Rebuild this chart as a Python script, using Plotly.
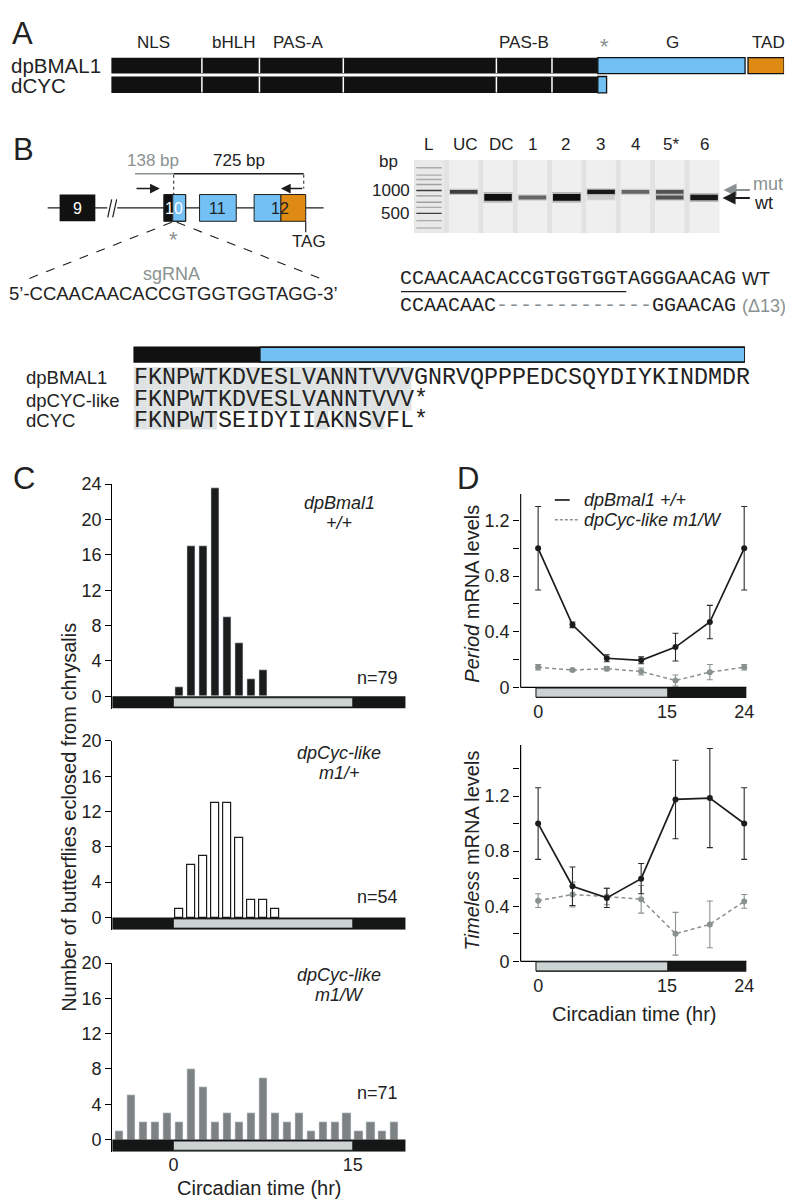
import numpy as np
import plotly.graph_objects as go

W, H = 793, 1203
OFFX, OFFY = 0, 6  # small vertical offset correction of target positions
FONT = "Liberation Sans, Arial, Helvetica, sans-serif"
MONO = "Liberation Mono, Courier New, monospace"
INK = "#1b1d1d"
GREY = "#8a9191"
LIGHT = "#cdd3d2"
BLUE = "#72c0f4"
ORANGE = "#df8a12"
TEXT = "#222222"

# ================= DATA =================
# Panel A: domain structure (residue coordinates, approximate)
A_ROWS = ["dpBMAL1", "dCYC"]
A_DOMAIN_BOUNDS = [0, 93, 152, 238, 395, 452, 499]
A_G_REGION = [499, 650]
A_TAD_REGION = [653, 690]
A_DCYC_TAIL = [499, 508]
A_LABELS = ["NLS", "bHLH", "PAS-A", "PAS-B", "*", "G", "TAD"]
A_LABEL_AA = [43, 125, 192, 423, 506, 576, 674]

# Panel B: gel
GEL_LANES = ["L", "UC", "DC", "1", "2", "3", "4", "5*", "6"]
LADDER_BP = [2000, 1600, 1400, 1200, 1000, 850, 700, 600, 500, 400, 320]
LADDER_STRENGTH = [0.3, 0.3, 0.3, 0.35, 0.85, 0.4, 0.35, 0.3, 0.85, 0.3, 0.25]
MUT_BP, WT_BP = 960, 810
LANE_MUT = [0, 0.75, 0, 0, 0, 0.95, 0.55, 0.65, 0]
LANE_WT = [0, 0, 1.0, 0.55, 1.0, 0.12, 0, 0.65, 0.95]
LANE_WEIGHT = [1, 1, 1.7, 1, 1.7, 1.1, 1, 1, 1.4]

# Panel B: sequences
SGRNA = "CCAACAACACCGTGGTGGTAGG"
WT_SEQ = "CCAACAACACCGTGGTGGTAGGGAACAG"
DEL_START, DEL_LEN = 8, 13
SEQ_NAMES = ["dpBMAL1", "dpCYC-like", "dCYC"]
SEQS = ["FKNPWTKDVESLVANNTVVVGNRVQPPPEDCSQYDIYKINDMDR",
        "FKNPWTKDVESLVANNTVVV*",
        "FKNPWTSEIDYIIAKNSVFL*"]
ALIGN_BLACK_END = 9.1

# Panel C: eclosion histograms (bin start hour, counts)
C_WT_HOURS = [0, 1, 2, 3, 4, 5, 6, 7]
C_WT = [1, 17, 17, 23.5, 9, 6, 2, 3]
C_HET_HOURS = [0, 1, 2, 3, 4, 5, 6, 7, 8]
C_HET = [1, 6, 7, 13, 13, 9, 2, 2, 1]
C_MUT_HOURS = list(range(-5, 19))
C_MUT = [1, 5, 2, 2, 3, 2, 8, 6, 2, 3, 2, 3, 7, 3, 2, 3, 1, 2, 2, 3, 1, 2, 1, 2]
C_GENO = [("dpBmal1", "+/+"), ("dpCyc-like", "m1/+"), ("dpCyc-like", "m1/W")]
C_N = [79, 54, 71]

# Panel D: qPCR
CT = [0, 4, 8, 12, 16, 20, 24]
PER_WT = [1.0, 0.45, 0.21, 0.195, 0.29, 0.47, 1.0]
PER_WT_ERR = [0.3, 0.02, 0.025, 0.025, 0.1, 0.12, 0.3]
PER_MUT = [0.145, 0.125, 0.135, 0.115, 0.05, 0.11, 0.145]
PER_MUT_ERR = [0.02, 0.006, 0.015, 0.025, 0.04, 0.055, 0.02]
TIM_WT = [1.0, 0.545, 0.46, 0.6, 1.175, 1.185, 1.0]
TIM_WT_ERR = [0.26, 0.14, 0.07, 0.11, 0.285, 0.36, 0.26]
TIM_MUT = [0.44, 0.485, 0.47, 0.45, 0.2, 0.268, 0.435]
TIM_MUT_ERR = [0.05, 0.09, 0.06, 0.1, 0.155, 0.17, 0.05]


# ================= helpers =================
def xd(a, b):
    return [(a - OFFX) / W, (b - OFFX) / W]


def yd(top, bot):
    return [1 - (bot - OFFY) / H, 1 - (top - OFFY) / H]


ann = []
shapes = []


def txt(x, y, s, size=18, color=TEXT, anchor="center", ref="9", family=FONT, yanchor="middle"):
    ann.append(dict(x=x, y=y, text=s, xref="x" + ref, yref="y" + ref, showarrow=False,
                    xanchor=anchor, yanchor=yanchor, borderpad=0, borderwidth=0,
                    font=dict(size=size, color=color, family=family)))


def rect(ref, x0, x1, y0, y1, fill, line=None, lw=1.2, layer="above"):
    shapes.append(dict(type="rect", xref="x" + ref, yref="y" + ref, x0=x0, x1=x1, y0=y0, y1=y1,
                       fillcolor=fill, line=dict(color=line or fill, width=lw if line else 0),
                       layer=layer))


def seg(ref, x0, y0, x1, y1, color=INK, w=1.2, dash="solid"):
    shapes.append(dict(type="line", xref="x" + ref, yref="y" + ref, x0=x0, x1=x1, y0=y0, y1=y1,
                       line=dict(color=color, width=w, dash=dash)))


def arrow(x0, y0, x1, y1, color=INK, w=1.5):
    ann.append(dict(x=x1, y=y1, ax=x0, ay=y0, xref="x9", yref="y9", axref="x9", ayref="y9",
                    text="", showarrow=True, arrowhead=2, arrowsize=1.3, arrowwidth=w,
                    arrowcolor=color, standoff=0))


fig = go.Figure()
hidden = dict(visible=False, showgrid=False, zeroline=False, fixedrange=True)
lay = {}

# ---------- canvas (pixel) axis for free text ----------
lay["xaxis9"] = dict(hidden, domain=[0, 1], range=[OFFX, W + OFFX], anchor="y9")
lay["yaxis9"] = dict(hidden, domain=[0, 1], range=[H + OFFY, OFFY], anchor="x9")

# ---------- Panel A ----------
lay["xaxis6"] = dict(hidden, domain=xd(104, 782), range=[0, 690], anchor="y6")
lay["yaxis6"] = dict(hidden, domain=yd(16, 84), range=[84, 16], anchor="x6")
rows_y = [(46, 62), (65, 81.5)]
for r, (y0, y1) in enumerate(rows_y):
    rect("6", A_DOMAIN_BOUNDS[0], A_DOMAIN_BOUNDS[-1], y0, y1, "#111111")
    for b in A_DOMAIN_BOUNDS[1:-1]:
        seg("6", b, y0 + 0.5, b, y1 - 0.5, color="white", w=1.5)
    if r == 0:
        rect("6", A_G_REGION[0], A_G_REGION[1], y0, y1, BLUE, line="#111111", lw=1.3)
        rect("6", A_TAD_REGION[0], A_TAD_REGION[1], y0, y1, ORANGE, line="#111111", lw=1.3)
    else:
        rect("6", A_DCYC_TAIL[0], A_DCYC_TAIL[1], y0, y1, BLUE, line="#111111", lw=1.3)
for lab, aa in zip(A_LABELS, A_LABEL_AA):
    if lab == "*":
        txt(aa, 35, lab, size=22, color=GREY, ref="6")
    else:
        txt(aa, 31, lab, size=17, ref="6")
txt(3, 54, A_ROWS[0], size=20.5, anchor="left")
txt(3, 74, A_ROWS[1], size=20.5, anchor="left")

# panel letters
for L, (x, y) in zip("ABCD", [(15, 22), (16, 139), (16, 470), (463, 470)]):
    txt(x, y, L, size=31)

# ---------- Panel B gene diagram (schematic, canvas px) ----------
txt(146, 150, "138 bp", size=17, color=GREY)
txt(233, 150, "725 bp", size=17)
seg("9", 128, 163, 167, 163, color=GREY, w=1.5)
seg("9", 167, 163, 298, 163, w=1.5)
seg("9", 167, 164, 167, 184, w=1, dash="dot")
seg("9", 298, 164, 298, 178, w=1, dash="dot")
arrow(128, 178, 153, 178)
arrow(298, 178, 275, 178)
seg("9", 40, 197.5, 318, 197.5, w=1.2)
rect("9", 100, 110, 192, 203, "white")
seg("9", 100.5, 207, 104.5, 189, w=1.2)
seg("9", 105.5, 207, 109.5, 189, w=1.2)
rect("9", 52, 88, 184, 211, "#111111")
txt(70, 198, "9", size=16, color="white")
rect("9", 157, 166, 184, 211, "#111111")
rect("9", 166, 179, 184, 211, BLUE, line="#222", lw=1)
rect("9", 157, 179, 184, 211, "rgba(0,0,0,0)", line="#222", lw=1)
txt(167.5, 198, "10", size=16, color="white")
rect("9", 193, 230, 184, 211, BLUE, line="#222", lw=1)
txt(211.5, 198, "11", size=16)
rect("9", 248, 275, 184, 211, BLUE, line="#222", lw=1)
rect("9", 275, 300, 184, 211, ORANGE, line="#222", lw=1)
txt(274, 198, "12", size=16)
seg("9", 300, 211, 300, 222, w=1.2)
txt(303, 231, "TAG", size=17)
txt(167, 229, "*", size=22, color=GREY)
seg("9", 165, 212, 18, 270, w=1.1, dash="dash")
seg("9", 170, 212, 318, 270, w=1.1, dash="dash")
txt(165, 264, "sgRNA", size=18, color=GREY)
txt(167, 284, "5\u2019-" + SGRNA + "-3\u2019", size=18.5)

# ---------- Panel B gel ----------
lay["xaxis7"] = dict(hidden, domain=xd(409, 717), range=[-0.45, 8.45], anchor="y7")
lay["yaxis7"] = dict(hidden, domain=yd(149, 223), range=[np.log10(273), np.log10(2547)], anchor="x7")
rect("7", -0.45, 8.45, np.log10(273), np.log10(2547), "#e2e2e2", layer="below")
for i in range(len(GEL_LANES)):
    rect("7", i - 0.43, i + 0.43, np.log10(273), np.log10(2547),
         "#e9e9e9" if i == 0 else "#efefef", layer="below")
for bp, s in zip(LADDER_BP, LADDER_STRENGTH):
    lb = np.log10(bp)
    rect("7", -0.38, 0.36, lb - 0.009, lb + 0.009, "rgba(30,30,30,%.2f)" % s)
px_log = (np.log10(2547) - np.log10(273)) / 74.0
for i in range(len(GEL_LANES)):
    for bp, inten in ((MUT_BP, LANE_MUT[i]), (WT_BP, LANE_WT[i])):
        if inten <= 0:
            continue
        lb = np.log10(bp)
        h = 2.0 * LANE_WEIGHT[i] * px_log
        rect("7", i - 0.42, i + 0.42, lb - h * 1.6, lb + h * 1.6, "rgba(20,20,20,%.2f)" % (inten * 0.25))
        rect("7", i - 0.4, i + 0.4, lb - h, lb + h, "rgba(15,15,15,%.2f)" % inten)
lane_x = [424, 461, 497, 528, 562, 597, 632, 668, 702]
for name, x in zip(GEL_LANES, lane_x):
    txt(x, 134, name, size=17)
txt(383, 151, "bp", size=17)
txt(405, 180, "1000", size=17, anchor="right")
txt(404, 203, "500", size=17, anchor="right")
arrow(749, 179.5, 721, 179.5, color=GREY, w=2)
arrow(749, 187.5, 720, 187.5, color=INK, w=2)
txt(751, 173, "mut", size=18, color=GREY, anchor="left")
txt(752, 193, "wt", size=18, anchor="left")

CW = 12.0  # monospace char width at 20px
txt(395, 269, WT_SEQ, size=20, family=MONO, anchor="left")
seg("9", 396, 282, 395 + (len(SGRNA) - 3) * CW, 282, w=1.3)
txt(740, 269, "WT", size=18, anchor="left")
mut_line = (WT_SEQ[:DEL_START] + "<span style='color:%s'>" % GREY + "-" * DEL_LEN + "</span>"
            + WT_SEQ[DEL_START + DEL_LEN:])
txt(395, 296, mut_line, size=20, family=MONO, anchor="left")
txt(740, 296, "(\u0394%d)*" % DEL_LEN, size=18, color=GREY, anchor="left")

# ---------- Panel B alignment ----------
nres = len(SEQS[0])
lay["xaxis8"] = dict(hidden, domain=xd(126.5, 126.5 + nres * 14.0), range=[0, nres], anchor="y8")
lay["yaxis8"] = dict(hidden, domain=yd(336, 424), range=[424, 336], anchor="x8")
rect("8", 0, ALIGN_BLACK_END, 338, 353, "#111111")
rect("8", ALIGN_BLACK_END, nres, 338, 353, BLUE, line="#111111", lw=1.3)
rect("8", 0, nres, 338, 353, "rgba(0,0,0,0)", line="#111111", lw=1.3)
row_bands = [(358, 380.5), (380.5, 402), (402, 421)]
row_cent = [369, 391.5, 412]
ref_seq = SEQS[0]
for r, s in enumerate(SEQS):
    for i, ch in enumerate(s):
        if r == 0:
            match = i < len(SEQS[1]) and SEQS[1][i] == ch
        else:
            match = i < len(ref_seq) and ref_seq[i] == ch
        if match:
            rect("8", i, i + 1, row_bands[r][0], row_bands[r][1], "#dfe2e2", layer="below")
    txt(0, row_cent[r], s, size=23.33, family=MONO, anchor="left", ref="8")
    txt(18, row_cent[r], SEQ_NAMES[r], size=18.5, anchor="left")

# ---------- Panel C ----------
c_x = dict(domain=xd(105, 400.7), range=[-5.12, 19.43], showgrid=False, zeroline=False,
           showline=False, ticks="", fixedrange=True)
c_y = dict(showgrid=False, zeroline=False, showline=True, linecolor="black", linewidth=1.2,
           ticks="outside", ticklen=6, tickwidth=1.2, tickcolor="black",
           tickfont=dict(size=18, color=TEXT, family=FONT), fixedrange=True)
c_specs = [("", "", (476, 702.3), 24, C_WT_HOURS, C_WT, dict(color=INK)),
           ("2", "2", (735, 925.3), 20, C_HET_HOURS, C_HET, dict(color="white", line=dict(color=INK, width=1.2))),
           ("3", "3", (959, 1149.3), 20, C_MUT_HOURS, C_MUT, dict(color="#7d8383"))]
for k, (xs, ys, (top, bot), ytop, hrs, vals, mk) in enumerate(c_specs):
    xa = dict(c_x, anchor="y" + ys)
    if k == 2:
        xa.update(tickmode="array", tickvals=[0, 15], ticktext=["0", "15"],
                  tickfont=dict(size=18, color=TEXT, family=FONT))
    else:
        xa.update(showticklabels=False)
    lay["xaxis" + xs] = xa
    lay["yaxis" + ys] = dict(c_y, domain=yd(top, bot), range=[-1.38, ytop], anchor="x" + xs,
                             tickmode="array", tickvals=list(range(0, ytop + 1, 4)))
    fig.add_trace(go.Bar(x=[h + 0.5 for h in hrs], y=vals, width=0.68, marker=mk,
                         xaxis="x" + xs, yaxis="y" + ys, showlegend=False, hoverinfo="skip"))
    xr = "x" + xs if xs else "x"
    yr = "y" + ys if ys else "y"
    shapes.append(dict(type="rect", xref=xr, yref=yr, x0=-5.12, x1=19.43, y0=-1.38, y1=0,
                       fillcolor="#151717", line=dict(width=0)))
    shapes.append(dict(type="rect", xref=xr, yref=yr, x0=0, x1=15, y0=-1.2, y1=-0.17,
                       fillcolor=LIGHT, line=dict(color="#151717", width=0.8)))
    g1, g2 = C_GENO[k]
    gy = top + 19 if k == 0 else top + 12
    txt(334, gy, "<i>%s</i>" % g1, size=18)
    txt(334, gy + 20.5, "<i>%s</i>" % g2, size=18)
n_y = [672, 892, 1090]
for k, n in enumerate(C_N):
    txt(372, n_y[k], "n=%d" % n, size=18)
txt(253, 1186, "Circadian time (hr)", size=20)
ann.append(dict(x=62, y=812, xref="x9", yref="y9", text="Number of butterflies eclosed from chrysalis",
                textangle=-90, showarrow=False, font=dict(size=20, color=TEXT, family=FONT)))

# ---------- Panel D ----------
d_specs = [("4", (486, 693), 1.39, PER_WT, PER_WT_ERR, PER_MUT, PER_MUT_ERR, "Period", 586),
           ("5", (739, 969), 1.571, TIM_WT, TIM_WT_ERR, TIM_MUT, TIM_MUT_ERR, "Timeless", 845)]
for (s, (top, bot), ytop, wt, wte, mu, mue, gene, ty) in d_specs:
    lay["xaxis" + s] = dict(domain=xd(516, 745.7), range=[-2.1, 24.45], anchor="y" + s,
                            showgrid=False, zeroline=False, showline=False, ticks="",
                            tickmode="array", tickvals=[0, 15, 24], ticktext=["0", "15", "24"],
                            tickfont=dict(size=18, color=TEXT, family=FONT), fixedrange=True)
    tv = [round(v, 1) for v in np.arange(0, ytop, 0.2)]
    tt = [("0" if v == 0 else "%.1f" % v) if abs((v / 0.4) - round(v / 0.4)) < 1e-6 else "" for v in tv]
    lay["yaxis" + s] = dict(domain=yd(top, bot), range=[-0.085, ytop], anchor="x" + s,
                            showgrid=False, zeroline=False, showline=False,
                            ticks="outside", ticklen=6, tickwidth=1.2, tickcolor="black",
                            tickmode="array", tickvals=tv, ticktext=tt,
                            tickfont=dict(size=18, color=TEXT, family=FONT), fixedrange=True)
    xr, yr = "x" + s, "y" + s
    shapes.append(dict(type="line", xref=xr, yref=yr, x0=-2.04, x1=-2.04, y0=0, y1=ytop,
                       line=dict(color="black", width=1.2)))
    shapes.append(dict(type="line", xref=xr, yref=yr, x0=-2.04, x1=24.25, y0=0, y1=0,
                       line=dict(color="black", width=1.2)))
    shapes.append(dict(type="rect", xref=xr, yref=yr, x0=-0.25, x1=24.25, y0=-0.076, y1=0,
                       fillcolor="#151717", line=dict(width=0)))
    shapes.append(dict(type="rect", xref=xr, yref=yr, x0=-0.25, x1=15.1, y0=-0.07, y1=-0.004,
                       fillcolor=LIGHT, line=dict(color="#151717", width=1)))
    fig.add_trace(go.Scatter(x=CT, y=mu, mode="lines+markers", xaxis=xr, yaxis=yr,
                             line=dict(color=GREY, width=1.5, dash="4px,3px"),
                             marker=dict(size=6, color=GREY),
                             error_y=dict(type="data", array=mue, color=GREY, thickness=1.1, width=3),
                             showlegend=False, hoverinfo="skip", cliponaxis=False))
    fig.add_trace(go.Scatter(x=CT, y=wt, mode="lines+markers", xaxis=xr, yaxis=yr,
                             line=dict(color=INK, width=1.7),
                             marker=dict(size=6, color=INK),
                             error_y=dict(type="data", array=wte, color="#2a2a2a", thickness=1.1, width=3),
                             showlegend=False, hoverinfo="skip", cliponaxis=False))
    ann.append(dict(x=468, y=ty, xref="x9", yref="y9", text="<i>%s</i> mRNA levels" % gene,
                    textangle=-90, showarrow=False, font=dict(size=20, color=TEXT, family=FONT)))
txt(631, 1010, "Circadian time (hr)", size=20)
# legend
seg("9", 551, 492, 566, 492, color=INK, w=1.7)
seg("9", 551, 512, 574, 512, color=GREY, w=1.5, dash="3px,2px")
txt(580, 492, "<i>dpBmal1 +/+</i>", size=18, anchor="left")
txt(580, 512, "<i>dpCyc-like m1/W</i>", size=18, anchor="left")

# dummy traces so all schematic subplots exist
for s in ["6", "7", "8", "9"]:
    fig.add_trace(go.Scatter(x=[None], y=[None], xaxis="x" + s, yaxis="y" + s,
                             showlegend=False, hoverinfo="skip"))

fig.update_layout(width=W, height=H, margin=dict(l=0, r=0, t=0, b=0),
                  paper_bgcolor="white", plot_bgcolor="rgba(0,0,0,0)",
                  showlegend=False, bargap=0, font=dict(family=FONT, color=TEXT),
                  shapes=shapes, annotations=ann, **lay)
fig.write_html("out.html")
